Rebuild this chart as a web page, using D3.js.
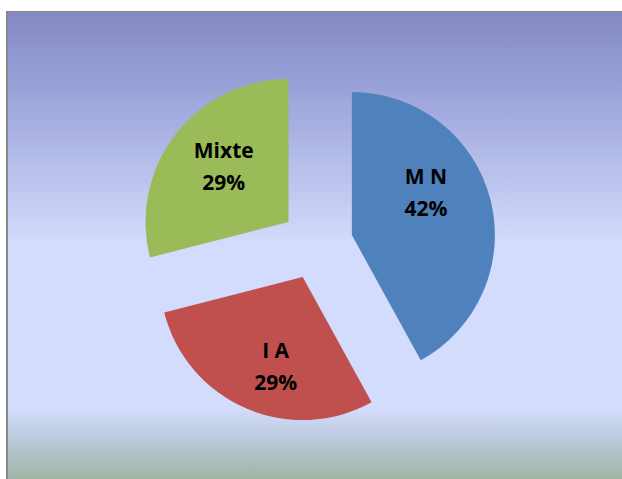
<!DOCTYPE html>
<html>
<head>
<meta charset="utf-8">
<script src="https://cdn.jsdelivr.net/npm/d3@7"></script>
<style>
  html, body { margin: 0; padding: 0; background: #fff; }
  svg { display: block; }
</style>
</head>
<body>
<svg id="chart" width="622" height="479"></svg>
<script>
// data
const categories = ["M N", "I A", "Mixte"];
const percents = [42, 29, 29];
const colors = ["#4f81bd", "#c0504d", "#9bbb59"];

const svg = d3.select("#chart");
const W = 622, H = 479;

// background gradient (Excel style)
const defs = svg.append("defs");
const grad = defs.append("linearGradient")
  .attr("id", "bg").attr("x1", 0).attr("y1", 0).attr("x2", 0).attr("y2", 1);
[["0%", "#8388c3"], ["16%", "#9aa1d8"], ["50%", "#d3dcfc"], ["85%", "#d3dcfc"], ["92%", "#bac8d9"], ["100%", "#9fb5a4"]]
  .forEach(s => grad.append("stop").attr("offset", s[0]).attr("stop-color", s[1]));

svg.append("rect")
  .attr("x", 7).attr("y", 11)
  .attr("width", W - 7).attr("height", H - 11)
  .attr("fill", "url(#bg)");
svg.append("line").attr("x1", 7).attr("x2", W).attr("y1", 11.5).attr("y2", 11.5)
  .attr("stroke", "#888").attr("stroke-width", 1);
svg.append("line").attr("x1", 7).attr("x2", 7).attr("y1", 11).attr("y2", H)
  .attr("stroke", "#888").attr("stroke-width", 2);

// pie
const cx = 317, cy = 244, radius = 143, explode = 36;
const pie = d3.pie().sort(null).value(d => d);
const arcs = pie(percents);
const arc = d3.arc().innerRadius(0).outerRadius(radius);
const labelArc = d3.arc().innerRadius(radius * 0.6).outerRadius(radius * 0.6);

const g = svg.append("g").attr("transform", `translate(${cx},${cy})`);

const slices = g.selectAll("g.slice")
  .data(arcs)
  .enter()
  .append("g")
  .attr("class", "slice")
  .attr("transform", d => {
    const a = (d.startAngle + d.endAngle) / 2;
    return `translate(${Math.sin(a) * explode},${-Math.cos(a) * explode})`;
  });

slices.append("path")
  .attr("d", arc)
  .attr("fill", (d, i) => colors[i]);

// small label nudges, like excel's best-fit placement
const nudge = [[-9, -22], [7, 10], [3, -3]];

const labels = slices.append("text")
  .attr("transform", (d, i) => {
    const c = labelArc.centroid(d);
    return `translate(${c[0] + nudge[i][0]},${c[1] + nudge[i][1]})`;
  })
  .attr("text-anchor", "middle")
  .attr("font-family", "'Open Sans', sans-serif")
  .attr("font-weight", "bold")
  .attr("font-size", "21px")
  .attr("fill", "#000");

labels.append("tspan").attr("x", 0).attr("y", -8).text((d, i) => categories[i]);
labels.append("tspan").attr("x", 0).attr("y", 24).text((d, i) => percents[i] + "%");
</script>
</body>
</html>
